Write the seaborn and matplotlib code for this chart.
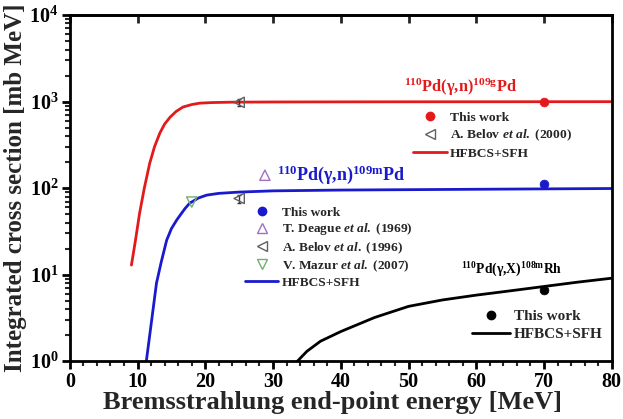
import numpy as np
import pandas as pd
import matplotlib
matplotlib.use("Agg")
import matplotlib.pyplot as plt
import seaborn as sns
from matplotlib.lines import Line2D
from matplotlib.ticker import LogLocator, MultipleLocator, NullFormatter

sns.set_theme(style="white")
plt.rcParams['font.family'] = ['Liberation Serif', 'DejaVu Serif']
plt.rcParams['font.weight'] = 'bold'
plt.rcParams['mathtext.fontset'] = 'custom'
plt.rcParams['mathtext.rm'] = 'Liberation Serif:bold'
plt.rcParams['mathtext.it'] = 'Liberation Serif:bold:italic'
plt.rcParams['mathtext.bf'] = 'Liberation Serif:bold'

# ---- data ----
red_x = [9.1, 9.7, 10.3, 11.0, 11.8, 12.5, 13.3, 14.0, 14.8, 15.7, 16.7, 18.0, 19.2, 21, 24, 30, 40, 50, 60, 70, 80]
red_y = [12.9, 25, 51, 100, 194, 300, 434, 550, 660, 770, 865, 925, 960, 975, 985, 990, 993, 995, 996, 997, 998]

blue_x = [11.3, 11.8, 12.3, 12.8, 13.5, 14.3, 15.0, 15.8, 17.0, 17.7, 19.0, 20.2, 22, 25, 30, 40, 50, 60, 70, 80]
blue_y = [1.0, 2.0, 4.0, 8.0, 14, 25, 34, 43, 58, 67, 77, 83, 87, 90, 93, 95, 96, 97, 98, 99]

black_x = [33.6, 35, 37, 40, 45, 50, 55, 60, 65, 70, 75, 80]
black_y = [1.0, 1.3, 1.7, 2.2, 3.2, 4.3, 5.1, 5.8, 6.5, 7.3, 8.2, 9.1]

# experimental points
red_this_x, red_this_y, red_this_err = [70], [980], [40]
red_belov_x, red_belov_y, red_belov_err = [25], [980], [90]

blue_this_x, blue_this_y, blue_this_err = [70], [112], [10]
blue_deague_x, blue_deague_y = [28.8], [141]
blue_belov_x, blue_belov_y, blue_belov_err = [25], [76], [8]
blue_mazur_x, blue_mazur_y = [18], [69]

black_this_x, black_this_y, black_this_err = [70], [6.6], [0.6]

RED = '#e31a1c'
BLUE = '#1a1acd'
BLACK = '#000000'
PURPLE = '#a070c0'
GREEN = '#70b070'
GREY = '#606060'

fig = plt.figure(figsize=(6.23, 4.19), dpi=100)
ax = fig.add_axes([0.112, 0.138, 0.870, 0.826])

curves = pd.concat([
    pd.DataFrame({'E': red_x, 'Y': red_y, 'set': 'red'}),
    pd.DataFrame({'E': blue_x, 'Y': blue_y, 'set': 'blue'}),
    pd.DataFrame({'E': black_x, 'Y': black_y, 'set': 'black'}),
])
sns.lineplot(data=curves, x='E', y='Y', hue='set', palette={'red': RED, 'blue': BLUE, 'black': BLACK},
             linewidth=2, legend=False, ax=ax, sort=False, estimator=None)

# error bars
ax.errorbar(red_this_x, red_this_y, yerr=red_this_err, fmt='none', ecolor=RED, elinewidth=1.2, capsize=0)
ax.errorbar(red_belov_x, red_belov_y, yerr=red_belov_err, fmt='none', ecolor='#333333', elinewidth=1, capsize=1.5)
ax.errorbar(blue_this_x, blue_this_y, yerr=blue_this_err, fmt='none', ecolor=BLUE, elinewidth=1.2, capsize=0)
ax.errorbar(blue_belov_x, blue_belov_y, yerr=blue_belov_err, fmt='none', ecolor='#333333', elinewidth=1, capsize=1.5)
ax.errorbar(black_this_x, black_this_y, yerr=black_this_err, fmt='none', ecolor=BLACK, elinewidth=1.2, capsize=0)

sns.scatterplot(x=red_this_x, y=red_this_y, color=RED, s=40, edgecolor=RED, ax=ax, zorder=5)
sns.scatterplot(x=red_belov_x, y=red_belov_y, marker='<', s=55, facecolor='none', edgecolor=GREY, linewidth=1, ax=ax, zorder=5)
sns.scatterplot(x=blue_this_x, y=blue_this_y, color=BLUE, s=40, edgecolor=BLUE, ax=ax, zorder=5)
sns.scatterplot(x=blue_deague_x, y=blue_deague_y, marker='^', s=55, facecolor='none', edgecolor=PURPLE, linewidth=1, ax=ax, zorder=5)
sns.scatterplot(x=blue_belov_x, y=blue_belov_y, marker='<', s=55, facecolor='none', edgecolor=GREY, linewidth=1, ax=ax, zorder=5)
sns.scatterplot(x=blue_mazur_x, y=blue_mazur_y, marker='v', s=55, facecolor='none', edgecolor=GREEN, linewidth=1, ax=ax, zorder=5)
sns.scatterplot(x=black_this_x, y=black_this_y, color=BLACK, s=40, edgecolor=BLACK, ax=ax, zorder=5)

ax.set_yscale('log')
ax.set_xlim(0, 80)
ax.set_ylim(1, 1e4)
ax.xaxis.set_major_locator(MultipleLocator(10))
ax.xaxis.set_minor_locator(MultipleLocator(2))
ax.yaxis.set_major_locator(LogLocator(base=10, numticks=10))
ax.yaxis.set_minor_locator(LogLocator(base=10, subs=np.arange(2, 10), numticks=20))
ax.yaxis.set_minor_formatter(NullFormatter())

for s in ax.spines.values():
    s.set_linewidth(2)
    s.set_color('black')
ax.tick_params(axis='both', which='major', direction='out', length=6, width=2, labelsize=14.5, colors='black', pad=2,
               bottom=True, left=True)
ax.tick_params(axis='both', which='minor', direction='out', length=3.5, width=1.5, bottom=True, left=True)
# top ticks (major, inward)
axt = ax.secondary_xaxis('top')
axt.xaxis.set_major_locator(MultipleLocator(10))
axt.tick_params(direction='in', length=6, width=2, labeltop=False)
axt.spines['top'].set_linewidth(2)
for lab in ax.get_xticklabels() + ax.get_yticklabels():
    lab.set_fontweight('bold')

ax.set_xlabel('Bremsstrahlung end-point energy [MeV]', fontsize=19, fontweight='bold', labelpad=0)
ax.xaxis.set_label_coords(0.485, -0.085)
ax.set_ylabel('Integrated cross section [mb MeV]', fontsize=18, fontweight='bold', labelpad=2)

# reaction labels
ax.text(0.72, 0.79, r'$^{\mathrm{110}}$Pd(γ,n)$^{\mathrm{109g}}$Pd', transform=ax.transAxes, color=RED, fontsize=11.8,
        fontweight='bold', ha='center', va='center')
ax.text(0.50, 0.538, r'$^{\mathrm{110}}$Pd(γ,n)$^{\mathrm{109m}}$Pd', transform=ax.transAxes, color=BLUE, fontsize=13,
        fontweight='bold', ha='center', va='center')
ax.text(0.816, 0.264, r'$^{\mathrm{110}}$Pd(γ,X)$^{\mathrm{108m}}$Rh', transform=ax.transAxes, color=BLACK, fontsize=9.8,
        fontweight='bold', ha='center', va='center')

def lkw(size, spacing, hl):
    return dict(frameon=False, prop={'family': 'Liberation Serif', 'weight': 'bold', 'size': size},
                handlelength=hl, handletextpad=0.25, labelspacing=spacing, borderpad=0, borderaxespad=0)

h_red = [Line2D([], [], ls='none', marker='o', color=RED, ms=6),
         Line2D([], [], ls='none', marker='<', mfc='none', mec=GREY, ms=7),
         Line2D([], [], color=RED, lw=2)]
l_red = ['This work', r'A. Belov $\it{et\ al.}$ (2000)', 'HFBCS+SFH']
leg1 = ax.legend(h_red, l_red, loc='upper left', bbox_to_anchor=(0.633, 0.722), **lkw(9.7, 0.3, 2.5))
ax.add_artist(leg1)

h_blue = [Line2D([], [], ls='none', marker='o', color=BLUE, ms=6),
          Line2D([], [], ls='none', marker='^', mfc='none', mec=PURPLE, ms=7),
          Line2D([], [], ls='none', marker='<', mfc='none', mec=GREY, ms=7),
          Line2D([], [], ls='none', marker='v', mfc='none', mec=GREEN, ms=7),
          Line2D([], [], color=BLUE, lw=2)]
l_blue = ['This work', r'T. Deague $\it{et\ al.}$ (1969)', r'A. Belov $\it{et\ al.}$ (1996)',
          r'V. Mazur $\it{et\ al.}$ (2007)', 'HFBCS+SFH']
leg2 = ax.legend(h_blue, l_blue, loc='upper left', bbox_to_anchor=(0.323, 0.447), **lkw(9.6, 0.2, 2.5))
ax.add_artist(leg2)

h_blk = [Line2D([], [], ls='none', marker='o', color=BLACK, ms=6),
         Line2D([], [], color=BLACK, lw=2)]
l_blk = ['This work', 'HFBCS+SFH']
leg3 = ax.legend(h_blk, l_blk, loc='upper left', bbox_to_anchor=(0.742, 0.150), **lkw(11, 0.3, 2.5))

fig.savefig('out.png', dpi=100)
